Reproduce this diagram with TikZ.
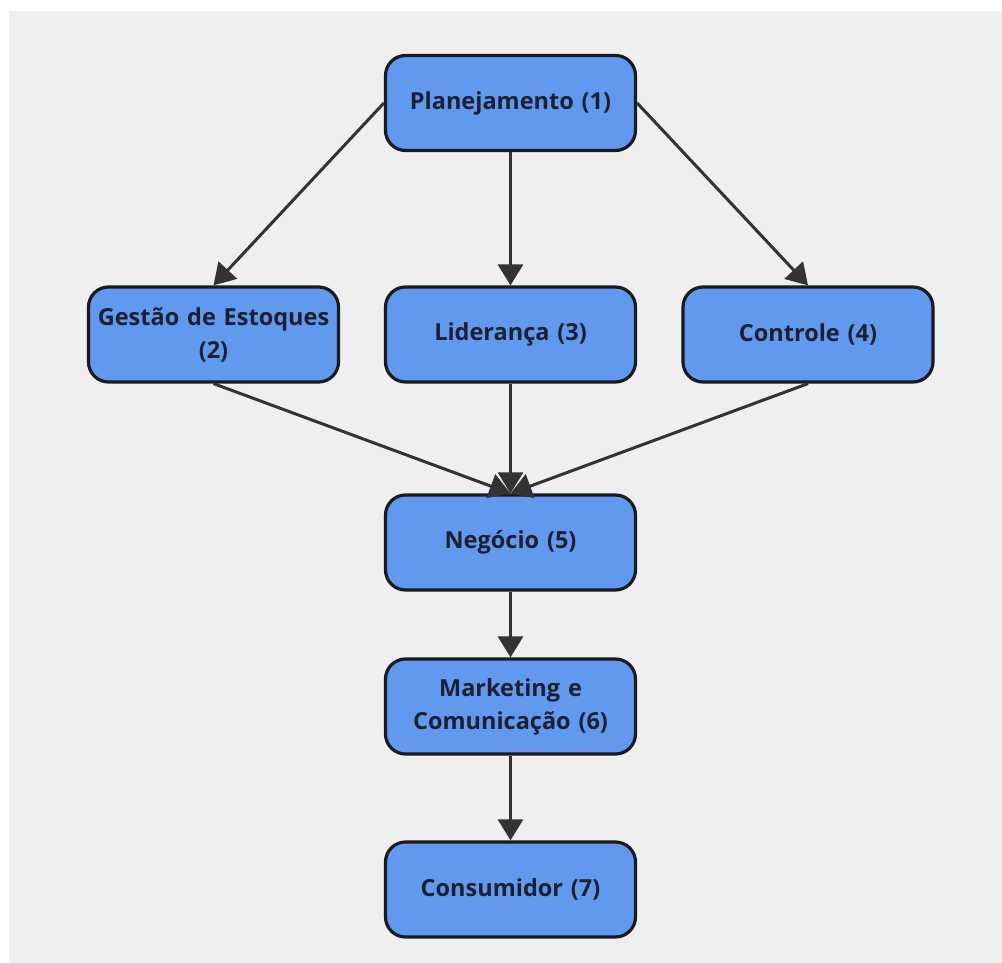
\documentclass[tikz,border=0pt]{standalone}
\usepackage{fontspec}
\setmainfont{Open Sans}
\usetikzlibrary{arrows.meta}
\definecolor{bgc}{HTML}{EFEFEF}
\definecolor{boxc}{HTML}{6199EE}
\definecolor{edgec}{HTML}{1A1A22}
\definecolor{txtc}{HTML}{1C2033}
\definecolor{arrc}{HTML}{333333}
\tikzset{
  box/.style={draw=edgec, fill=boxc, line width=3.2pt, rounded corners=20pt,
    minimum width=250pt, minimum height=95pt, inner sep=0pt, align=center,
    text=txtc, font=\bfseries\fontsize{23.5}{33}\selectfont, text width=246pt},
  link/.style={draw=arrc, line width=3pt, -{Triangle[length=21pt,width=25pt]}}
}
\begin{document}
\begin{tikzpicture}[x=1pt,y=-1pt]
\useasboundingbox (0,0) rectangle (1002,963);
\fill[white] (0,0) rectangle (1002,963);
\fill[bgc] (9,11) rectangle (1002,963);
\node[box] (p) at (510.5,103) {Planejamento (1)};
\node[box] (g) at (213.5,334.5) {Gestão de Estoques\\(2)};
\node[box] (l) at (510.5,334.5) {Liderança (3)};
\node[box] (c) at (808,334.5) {Controle (4)};
\node[box] (n) at (510.5,542.5) {Negócio (5)};
\node[box] (m) at (510.5,706.5) {Marketing e\\Comunicação (6)};
\node[box] (k) at (510.5,889.5) {Consumidor (7)};
\draw[link] (p.west) -- (g.north);
\draw[link] (p.south) -- (l.north);
\draw[link] (p.east) -- (c.north);
\draw[link] (g.south) -- (n.north);
\draw[link] (l.south) -- (n.north);
\draw[link] (c.south) -- (n.north);
\draw[link] (n.south) -- (m.north);
\draw[link] (m.south) -- (k.north);
\end{tikzpicture}
\end{document}
